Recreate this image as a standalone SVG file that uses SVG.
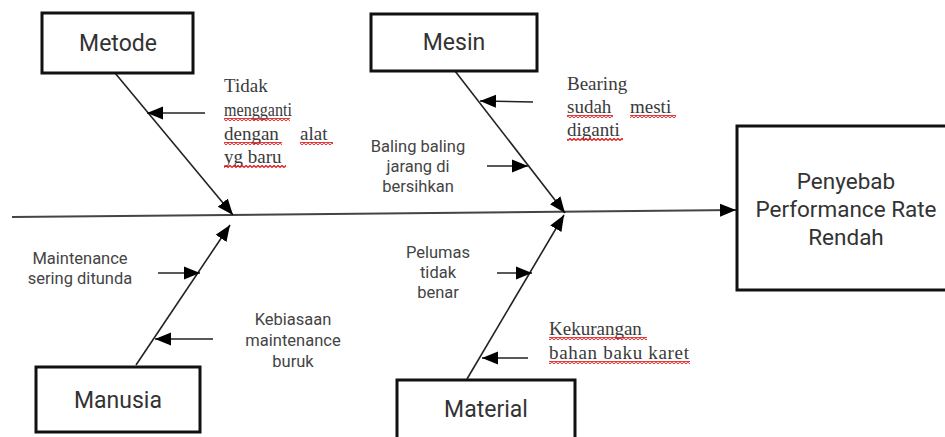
<svg xmlns="http://www.w3.org/2000/svg" width="945" height="437" viewBox="0 0 945 437">
<style>
.box{fill:#fff;stroke:#111;stroke-width:3}
.lbl{font-family:Roboto,"Liberation Sans",sans-serif;font-size:23px;fill:#333;text-anchor:middle}
.big{font-family:Roboto,"Liberation Sans",sans-serif;font-size:22.5px;fill:#333;text-anchor:middle}
.sm{font-family:Roboto,"Liberation Sans",sans-serif;font-size:16.5px;fill:#444;text-anchor:middle}
.sf{font-family:"Liberation Serif","DejaVu Serif",serif;font-size:19px;fill:#3a3a3a}
.bone{stroke:#222;stroke-width:1.6;fill:none;marker-end:url(#ah)}
.spine{stroke:#444;stroke-width:2;fill:none;marker-end:url(#ah)}
.sq{fill:url(#sq)}
</style>
<defs>
<marker id="ah" markerUnits="userSpaceOnUse" markerWidth="18" markerHeight="16" refX="16" refY="8" orient="auto">
<path d="M0,1.5 L16,8 L0,14.5 Z" fill="#000"/>
</marker>
<pattern id="sq" patternUnits="userSpaceOnUse" width="4" height="3">
<path d="M0,2.5 L2,0.5 L4,2.5" stroke="#e01818" stroke-width="1.3" fill="none"/>
</pattern>
</defs>
<rect width="945" height="437" fill="#fff"/>

<g id="connectors">
<path class="spine" d="M12,217 L736,210"/>
<path class="bone" d="M115,73 L233,215"/>
<path class="bone" d="M455,71 L565,213"/>
<path class="bone" d="M136,365 L230,225"/>
<path class="bone" d="M467,379 L564,215"/>
<path class="bone" d="M205,113 L147,113"/>
<path class="bone" d="M533,102 L480,101"/>
<path class="bone" d="M487,166 L528,166"/>
<path class="bone" d="M158,273 L200,273"/>
<path class="bone" d="M213,339 L155,339"/>
<path class="bone" d="M497,273 L532,273"/>
<path class="bone" d="M528,358 L482,358"/>
</g>

<g id="metode">
<rect class="box" x="42" y="13" width="151" height="60"/>
<text class="lbl" x="118" y="51">Metode</text>
</g>
<g id="mesin">
<rect class="box" x="371" y="14" width="166" height="57"/>
<text class="lbl" x="454" y="50">Mesin</text>
</g>
<g id="manusia">
<rect class="box" x="36" y="367" width="164" height="65"/>
<text class="lbl" x="118" y="408">Manusia</text>
</g>
<g id="material">
<rect class="box" x="397" y="380" width="178" height="70"/>
<text class="lbl" x="486" y="417">Material</text>
</g>
<g id="effect">
<rect class="box" x="737" y="126" width="230" height="164"/>
<text class="big" x="846" y="189">Penyebab</text>
<text class="big" x="846" y="217">Performance Rate</text>
<text class="big" x="846" y="245">Rendah</text>
</g>

<g id="cause-tidak-mengganti">
<text class="sf" x="224" y="92">Tidak</text>
<text class="sf" x="224" y="116" textLength="68" lengthAdjust="spacingAndGlyphs">mengganti</text>
<text class="sf" y="140"><tspan x="224">dengan</tspan><tspan x="300">alat</tspan></text>
<text class="sf" x="224" y="163">yg baru</text>
<rect class="sq" x="224" y="118" width="66" height="3"/>
<rect class="sq" x="224" y="142" width="58" height="3"/>
<rect class="sq" x="300" y="142" width="33" height="3"/>
<rect class="sq" x="224" y="165" width="62" height="3"/>
</g>
<g id="cause-bearing">
<text class="sf" x="567" y="90">Bearing</text>
<text class="sf" y="113"><tspan x="567">sudah</tspan><tspan x="630">mesti</tspan></text>
<text class="sf" x="567" y="136">diganti</text>
<rect class="sq" x="567" y="115" width="46" height="3"/>
<rect class="sq" x="630" y="115" width="46" height="3"/>
<rect class="sq" x="567" y="138" width="56" height="3"/>
</g>
<g id="cause-baling">
<text class="sm" x="418" y="152">Baling baling</text>
<text class="sm" x="418" y="172">jarang di</text>
<text class="sm" x="418" y="192">bersihkan</text>
</g>
<g id="cause-maintenance-ditunda">
<text class="sm" x="80" y="264">Maintenance</text>
<text class="sm" x="80" y="284">sering ditunda</text>
</g>
<g id="cause-kebiasaan">
<text class="sm" x="293" y="325">Kebiasaan</text>
<text class="sm" x="293" y="346">maintenance</text>
<text class="sm" x="293" y="367">buruk</text>
</g>
<g id="cause-pelumas">
<text class="sm" x="438" y="258">Pelumas</text>
<text class="sm" x="438" y="278">tidak</text>
<text class="sm" x="438" y="298">benar</text>
</g>
<g id="cause-kekurangan">
<text class="sf" x="549" y="335">Kekurangan</text>
<text class="sf" x="549" y="359" textLength="140" lengthAdjust="spacing">bahan baku karet</text>
<rect class="sq" x="549" y="337" width="98" height="3"/>
<rect class="sq" x="549" y="361" width="141" height="3"/>
</g>
</svg>
